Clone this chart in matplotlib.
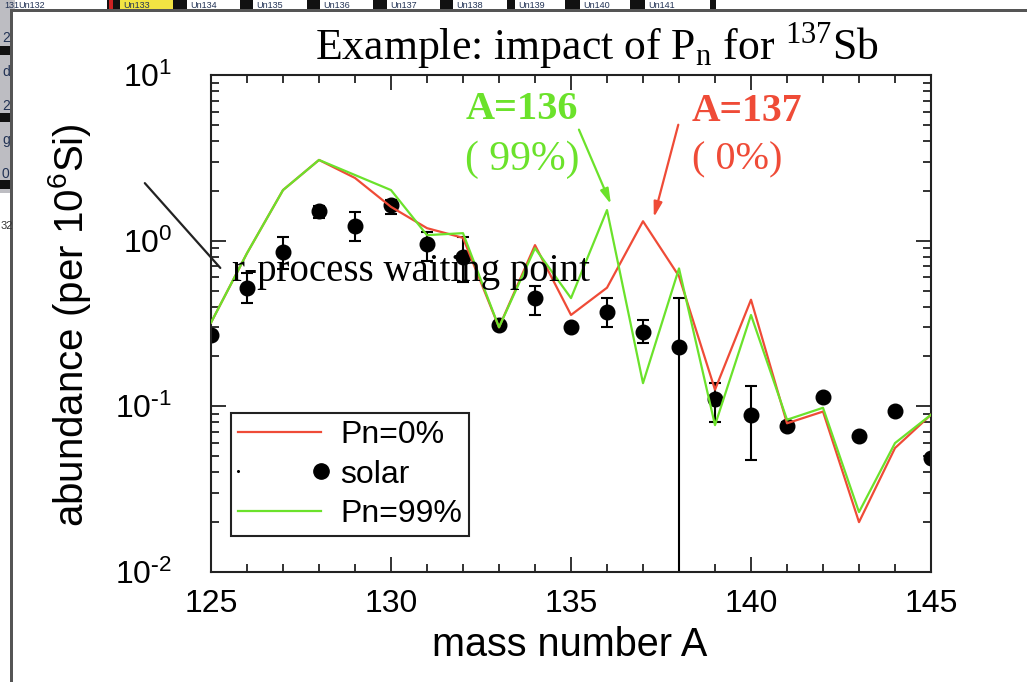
import numpy as np
import matplotlib
matplotlib.use('Agg')
import matplotlib.pyplot as plt
from matplotlib.patches import Rectangle
from matplotlib.lines import Line2D
from matplotlib.legend_handler import HandlerBase
from matplotlib.ticker import MultipleLocator, FuncFormatter

# data
mass = [125, 126, 127, 128, 129, 130, 131, 132, 133, 134, 135,
        136, 137, 138, 139, 140, 141, 142, 143, 144, 145]
pn0 = [0.32, 0.84, 2.02, 3.07, 2.39, 1.60, 1.19, 1.04, 0.30, 0.94, 0.356,
       0.52, 1.31, 0.61, 0.126, 0.44, 0.079, 0.093, 0.020, 0.056, 0.089]
pn99 = [0.32, 0.84, 2.02, 3.07, 2.49, 2.02, 1.08, 1.11, 0.30, 0.90, 0.45,
        1.53, 0.138, 0.68, 0.077, 0.356, 0.083, 0.098, 0.023, 0.060, 0.089]
solar = [0.27, 0.52, 0.85, 1.50, 1.23, 1.64, 0.95, 0.80, 0.31, 0.45, 0.30,
         0.37, 0.28, 0.227, 0.110, 0.0887, 0.076, 0.1135, 0.066, 0.094, 0.049]
solar_lo = [0.255, 0.42, 0.67, 1.37, 0.99, 1.45, 0.75, 0.56, 0.295, 0.356, 0.285,
            0.30, 0.24, 0.001, 0.080, 0.0476, 0.072, None, None, None, None]
solar_hi = [0.285, 0.64, 1.05, 1.62, 1.48, 1.76, 1.13, 1.05, 0.325, 0.53, 0.315,
            0.45, 0.33, 0.45, 0.139, 0.132, 0.080, None, None, None, None]

# window clutter around the screenshot
tabs = [('131', 1, 14, '#c4c4c8'), ('Un132', 15, 107, 'white'), ('Un133', 120, 173, '#f2e443'),
        ('Un134', 187, 240, 'white'), ('Un135', 253, 307, 'white'), ('Un136', 320, 373, 'white'),
        ('Un137', 387, 440, 'white'), ('Un138', 453, 507, 'white'), ('Un139', 515, 565, 'white'),
        ('Un140', 580, 630, 'white'), ('Un141', 645, 710, 'white')]
side_cells = ['2', 'd', '2', 'g', '0']

red = '#ef4b37'
green = '#6be22b'
sans = 'Liberation Sans'
serif = 'Liberation Serif'

plt.rcParams['mathtext.fontset'] = 'custom'
plt.rcParams['mathtext.rm'] = serif
plt.rcParams['mathtext.sf'] = sans
plt.rcParams['font.family'] = [sans, 'DejaVu Sans']

W, H = 1027, 682
fig = plt.figure(figsize=(W / 100, H / 100), dpi=100)


def box(x0, y0, x1, y1, color):
    fig.add_artist(Rectangle((x0 / W, 1 - y1 / H), (x1 - x0) / W, (y1 - y0) / H,
                             transform=fig.transFigure, facecolor=color, edgecolor='none'))


# top tab strip
box(0, 0, 715, 10, '#111111')
box(0, 0, 15, 10, '#c4c4c8')
for lab, x0, x1, c in tabs:
    box(x0, 0, x1, 9, c)
    fig.text((x0 + 3) / W, 1 - 5 / H, lab, fontsize=6.5, color='#223355',
             family=sans, va='center', ha='left')
box(109, 0, 113, 9, '#cc2222')
box(712, 0, 716, 9, '#111111')
box(12, 9, W, 12, '#555555')
# left strip
box(0, 0, 12, 193, '#bdbdc2')
for i, lab in enumerate(side_cells):
    yc = 38 + 34 * i
    fig.text(2 / W, 1 - yc / H, lab, fontsize=10, color='#223355',
             family=sans, va='center', ha='left')
for y0 in (46, 113, 180):
    box(0, y0, 12, y0 + 9, '#111111')
fig.text(1 / W, 1 - 226 / H, '32', fontsize=8, color='#333333',
         family=sans, va='center', ha='left')
box(10, 9, 13, H, '#555555')

ax = fig.add_axes([211 / W, 1 - 572 / H, 720 / W, 497 / H])

has_err = [i for i in range(len(mass)) if solar_lo[i] is not None]
ax.errorbar([mass[i] for i in has_err], [solar[i] for i in has_err],
            yerr=[[solar[i] - solar_lo[i] for i in has_err],
                  [solar_hi[i] - solar[i] for i in has_err]],
            fmt='none', ecolor='black', elinewidth=1.5, capsize=4.5, capthick=1.5, zorder=2)
ax.plot(mass, solar, 'o', color='black', ms=10.5, zorder=2)
ax.plot(mass, pn0, color=red, lw=1.6, zorder=3)
ax.plot(mass, pn99, color=green, lw=1.6, zorder=4)

ax.set_yscale('log')
ax.set_xlim(125, 145)
ax.set_ylim(0.01, 10)
ax.set_xticks(range(125, 146, 5))
ax.xaxis.set_minor_locator(MultipleLocator(1))


def decade(v, pos):
    e = int(round(np.log10(v)))
    if e < 0:
        return r'$\mathsf{10^{\text{-}%d}}$' % (-e)
    return r'$\mathsf{10^{%d}}$' % e


ax.yaxis.set_major_formatter(FuncFormatter(decade))
ax.tick_params(which='both', direction='in', top=True, right=True, width=1.3, color='#222222')
ax.tick_params(which='major', length=11, labelsize=23)
ax.tick_params(which='minor', length=6)
ax.tick_params(axis='y', which='major', pad=28)
ax.tick_params(axis='x', which='major', pad=12)
for s in ax.spines.values():
    s.set_linewidth(1.5)
    s.set_color('#222222')

fig.text(597 / W, 1 - 46 / H, r'Example: impact of $\mathrm{P_n}$ for $^{\mathrm{137}}$Sb',
         family=serif, fontsize=31.5, ha='center', va='center')
fig.text(70 / W, 1 - 325 / H, r'abundance (per 10$^{\mathsf{6}}$Si)',
         fontsize=29, rotation=90, ha='center', va='center')
fig.text(570 / W, 1 - 645 / H, 'mass number A', fontsize=28.5, ha='center', va='center')

ax.annotate('', xy=(125.31, 0.665), xytext=(123.11, 2.29), annotation_clip=False,
            arrowprops=dict(arrowstyle='-', color='#222222', lw=1.6))
ax.text(125.58, 0.647, 'r-process waiting point', family=serif, fontsize=28,
        ha='left', va='center', zorder=5)

ax.text(132.06, 6.15, 'A=136', family=serif, fontsize=29, fontweight='bold', color=green,
        ha='left', va='center')
ax.text(132.06, 3.07, '( 99%)', family=serif, fontsize=30, color=green, ha='left', va='center')
ax.annotate('', xy=(136.14, 1.6), xytext=(135.19, 4.85),
            arrowprops=dict(arrowstyle='-|>,head_length=0.9,head_width=0.25', color=green, lw=1.6))
ax.text(138.36, 5.98, 'A=137', family=serif, fontsize=28.5, fontweight='bold', color=red,
        ha='left', va='center')
ax.text(138.36, 3.07, '( 0%)', family=serif, fontsize=29, color=red, ha='left', va='center')
ax.annotate('', xy=(137.28, 1.33), xytext=(138.0, 5.2),
            arrowprops=dict(arrowstyle='-|>,head_length=0.9,head_width=0.25', color=red, lw=1.6))


class SolarKey(HandlerBase):
    def create_artists(self, legend, orig_handle, xdescent, ydescent, width, height, fontsize, trans):
        y = height / 2 - ydescent
        small = Line2D([-xdescent], [y], marker='o', ms=1.2, color='black', ls='')
        big = Line2D([width - xdescent], [y], marker='o', ms=11, color='black', ls='')
        small.set_transform(trans)
        big.set_transform(trans)
        return [small, big]


h0 = Line2D([], [], color=red, lw=1.6)
hs = Line2D([], [], color='black')
h99 = Line2D([], [], color=green, lw=1.6)
leg = ax.legend([h0, hs, h99], ['Pn=0%', 'solar', 'Pn=99%'], handler_map={hs: SolarKey()},
                loc='lower left', bbox_to_anchor=(0.028, 0.072), borderaxespad=0,
                fancybox=False, edgecolor='#222222', framealpha=1, prop={'family': sans, 'size': 23},
                handlelength=2.6, handletextpad=0.6, labelspacing=0.3, borderpad=0.22)
leg.get_frame().set_linewidth(1.5)

fig.savefig('out.png', dpi=100)
